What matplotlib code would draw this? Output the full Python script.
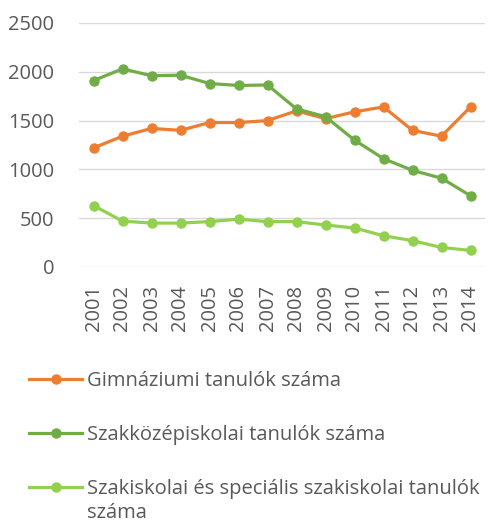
import matplotlib
matplotlib.use("Agg")
import matplotlib.pyplot as plt

####################
# Data: students per school type, 2001-2014
####################
years = ['2001', '2002', '2003', '2004', '2005', '2006', '2007',
         '2008', '2009', '2010', '2011', '2012', '2013', '2014']
gimnazium = [1220, 1340, 1420, 1400, 1480, 1480, 1500,
             1600, 1520, 1590, 1640, 1400, 1340, 1640]
szakkozep = [1910, 2030, 1960, 1965, 1880, 1860, 1865,
             1620, 1540, 1300, 1110, 990, 910, 730]
szakiskola = [630, 470, 450, 450, 465, 490, 465,
              465, 430, 400, 320, 270, 200, 170]
labels = ['Gimnáziumi tanulók száma',
          'Szakközépiskolai tanulók száma',
          'Szakiskolai és speciális szakiskolai tanulók']
label_wrap = 'száma'  # second line of the last legend entry
colors = ['#ED7D31', '#70AD47', '#92D050']

plt.rcParams['font.family'] = ['Open Sans', 'DejaVu Sans']
txt = '#595959'
fs = 14.5

####################
# Plot
####################
fig = plt.figure(figsize=(4.91, 5.24), dpi=100)
ax = fig.add_axes([79/491, 1 - 267/524, 406/491, 244/524])

x = range(len(years))
for vals, col, lab in zip([gimnazium, szakkozep, szakiskola], colors, labels):
    ax.plot(x, vals, color=col, lw=2.3, marker='o', ms=6.5, label=lab)

ax.set_ylim(0, 2500)
ax.set_xlim(-0.5, len(years) - 0.5)
ax.set_yticks([0, 500, 1000, 1500, 2000, 2500])
ax.set_xticks(list(x))
ax.set_xticklabels(years, rotation=90)
ax.tick_params(axis='y', length=0, pad=18, labelsize=fs, colors=txt)
ax.tick_params(axis='x', length=0, pad=13, labelsize=fs, colors=txt)
ax.grid(axis='y', color='#D9D9D9', lw=1)
ax.set_axisbelow(True)
for s in ax.spines.values():
    s.set_visible(False)

leg = fig.legend(loc='upper left', bbox_to_anchor=(29/491, 1 - 371/524),
                 frameon=False, fontsize=fs, handlelength=2.65,
                 handletextpad=0.25, labelspacing=1.68, borderaxespad=0,
                 borderpad=0)
for t in leg.get_texts():
    t.set_color(txt)

# wrapped remainder of the last legend label, one line below it
# (kept inside the bottom edge of the figure)
fig.canvas.draw()
bb = leg.get_texts()[-1].get_window_extent()
x0, y0 = fig.transFigure.inverted().transform((bb.x0, bb.y0))
fig.text(x0, max(y0 - 28/524, 1/524), label_wrap, fontsize=fs, color=txt,
         ha='left', va='bottom')

fig.savefig('out.png', dpi=100)
